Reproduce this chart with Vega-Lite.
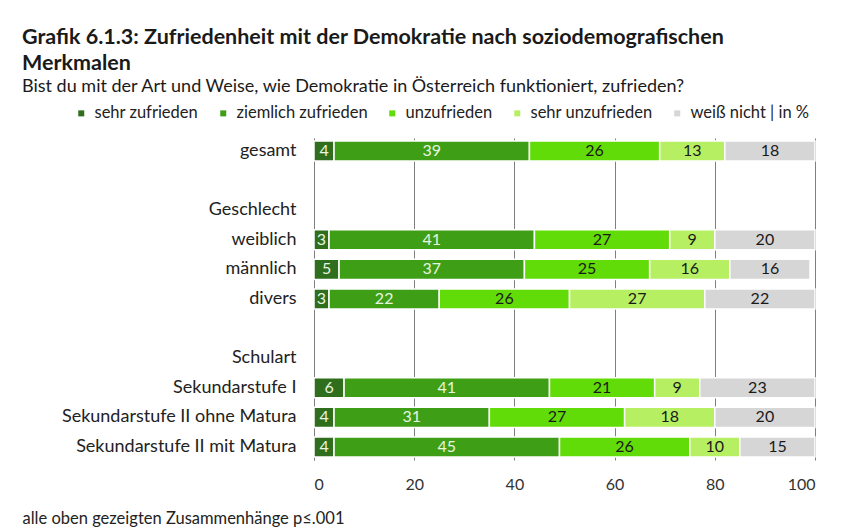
{
  "$schema": "https://vega.github.io/schema/vega-lite/v6.json",
  "width": 501,
  "height": 322,
  "autosize": {"type": "none"},
  "padding": {"left": 314, "top": 138, "right": 37, "bottom": 72},
  "background": "white",
  "config": {"font": "Lato", "view": {"stroke": null}},
  "title": {
    "text": ["Grafik 6.1.3: Zufriedenheit mit der Demokratie nach soziodemografischen", "Merkmalen"],
    "subtitle": "Bist du mit der Art und Weise, wie Demokratie in Österreich funktioniert, zufrieden?",
    "anchor": "start",
    "frame": "group",
    "dx": -292,
    "fontSize": 21.5,
    "fontWeight": "bold",
    "color": "#1a1a1a",
    "lineHeight": 26,
    "subtitleFontSize": 18,
    "subtitleColor": "#1a1a1a",
    "subtitlePadding": 4,
    "offset": 9
  },
  "data": {
    "values": [
      {"group": "gesamt", "answer": "sehr zufrieden", "value": 4},
      {"group": "gesamt", "answer": "ziemlich zufrieden", "value": 39},
      {"group": "gesamt", "answer": "unzufrieden", "value": 26},
      {"group": "gesamt", "answer": "sehr unzufrieden", "value": 13},
      {"group": "gesamt", "answer": "weiß nicht | in %", "value": 18},
      {"group": "weiblich", "answer": "sehr zufrieden", "value": 3},
      {"group": "weiblich", "answer": "ziemlich zufrieden", "value": 41},
      {"group": "weiblich", "answer": "unzufrieden", "value": 27},
      {"group": "weiblich", "answer": "sehr unzufrieden", "value": 9},
      {"group": "weiblich", "answer": "weiß nicht | in %", "value": 20},
      {"group": "männlich", "answer": "sehr zufrieden", "value": 5},
      {"group": "männlich", "answer": "ziemlich zufrieden", "value": 37},
      {"group": "männlich", "answer": "unzufrieden", "value": 25},
      {"group": "männlich", "answer": "sehr unzufrieden", "value": 16},
      {"group": "männlich", "answer": "weiß nicht | in %", "value": 16},
      {"group": "divers", "answer": "sehr zufrieden", "value": 3},
      {"group": "divers", "answer": "ziemlich zufrieden", "value": 22},
      {"group": "divers", "answer": "unzufrieden", "value": 26},
      {"group": "divers", "answer": "sehr unzufrieden", "value": 27},
      {"group": "divers", "answer": "weiß nicht | in %", "value": 22},
      {"group": "Sekundarstufe I", "answer": "sehr zufrieden", "value": 6},
      {"group": "Sekundarstufe I", "answer": "ziemlich zufrieden", "value": 41},
      {"group": "Sekundarstufe I", "answer": "unzufrieden", "value": 21},
      {"group": "Sekundarstufe I", "answer": "sehr unzufrieden", "value": 9},
      {"group": "Sekundarstufe I", "answer": "weiß nicht | in %", "value": 23},
      {"group": "Sekundarstufe II ohne Matura", "answer": "sehr zufrieden", "value": 4},
      {"group": "Sekundarstufe II ohne Matura", "answer": "ziemlich zufrieden", "value": 31},
      {"group": "Sekundarstufe II ohne Matura", "answer": "unzufrieden", "value": 27},
      {"group": "Sekundarstufe II ohne Matura", "answer": "sehr unzufrieden", "value": 18},
      {"group": "Sekundarstufe II ohne Matura", "answer": "weiß nicht | in %", "value": 20},
      {"group": "Sekundarstufe II mit Matura", "answer": "sehr zufrieden", "value": 4},
      {"group": "Sekundarstufe II mit Matura", "answer": "ziemlich zufrieden", "value": 45},
      {"group": "Sekundarstufe II mit Matura", "answer": "unzufrieden", "value": 26},
      {"group": "Sekundarstufe II mit Matura", "answer": "sehr unzufrieden", "value": 10},
      {"group": "Sekundarstufe II mit Matura", "answer": "weiß nicht | in %", "value": 15}
    ]
  },
  "transform": [
    {"calculate": "indexof(['sehr zufrieden', 'ziemlich zufrieden', 'unzufrieden', 'sehr unzufrieden', 'weiß nicht | in %'], datum.answer)", "as": "rank"},
    {"stack": "value", "groupby": ["group"], "sort": [{"field": "rank", "order": "ascending"}], "as": ["x0", "x1"]},
    {"calculate": "(datum.x0 + datum.x1) / 2", "as": "xmid"}
  ],
  "encoding": {
    "y": {
      "field": "group",
      "type": "nominal",
      "sort": null,
      "scale": {
        "domain": ["gesamt", " ", "Geschlecht", "weiblich", "männlich", "divers", "  ", "Schulart", "Sekundarstufe I", "Sekundarstufe II ohne Matura", "Sekundarstufe II mit Matura"],
        "paddingInner": 0.32,
        "paddingOuter": 0.1
      },
      "axis": {
        "title": null,
        "ticks": false,
        "domain": true,
        "domainColor": "#7f7f7f",
        "labelFontSize": 18,
        "labelColor": "#222222",
        "labelPadding": 18,
        "labelLimit": 400,
        "grid": false
      }
    }
  },
  "layer": [
    {
      "mark": {"type": "bar", "stroke": "white", "strokeWidth": 1.5},
      "encoding": {
        "x": {
          "field": "x0",
          "type": "quantitative",
          "scale": {"domain": [0, 100], "nice": false},
          "axis": {
            "values": [0, 20, 40, 60, 80, 100],
            "grid": true,
            "gridColor": "#7f7f7f",
            "gridWidth": 1,
            "ticks": false,
            "domain": false,
            "labelFontSize": 16,
            "labelColor": "#333333",
            "labelPadding": 16,
            "title": "alle oben gezeigten Zusammenhänge p≤.001",
            "titleAnchor": "start",
            "titleAlign": "left",
            "titleX": -292,
            "titleY": 63,
            "titleBaseline": "alphabetic",
            "titleFontWeight": "normal",
            "titleFontSize": 16.5,
            "titleColor": "#222222"
          }
        },
        "x2": {"field": "x1"},
        "color": {
          "field": "answer",
          "type": "nominal",
          "scale": {
            "domain": ["sehr zufrieden", "ziemlich zufrieden", "unzufrieden", "sehr unzufrieden", "weiß nicht | in %"],
            "range": ["#2e6e1c", "#3e9e16", "#62dc08", "#b6f062", "#d6d6d6"]
          },
          "legend": {
            "title": null,
            "orient": "none",
            "direction": "horizontal",
            "legendX": -241,
            "legendY": -33,
            "symbolType": "square",
            "symbolSize": 36,
            "symbolStrokeWidth": 0,
            "labelFontSize": 16.5,
            "labelColor": "#222222",
            "labelOffset": 5,
            "columnPadding": 16
          }
        }
      }
    },
    {
      "mark": {"type": "text", "fontSize": 16, "baseline": "middle"},
      "encoding": {
        "x": {"field": "xmid", "type": "quantitative"},
        "text": {"field": "value", "type": "quantitative"},
        "color": {
          "condition": {"test": "datum.rank < 2", "value": "#e8f5e0"},
          "value": "#1a1a1a"
        }
      }
    }
  ]
}
